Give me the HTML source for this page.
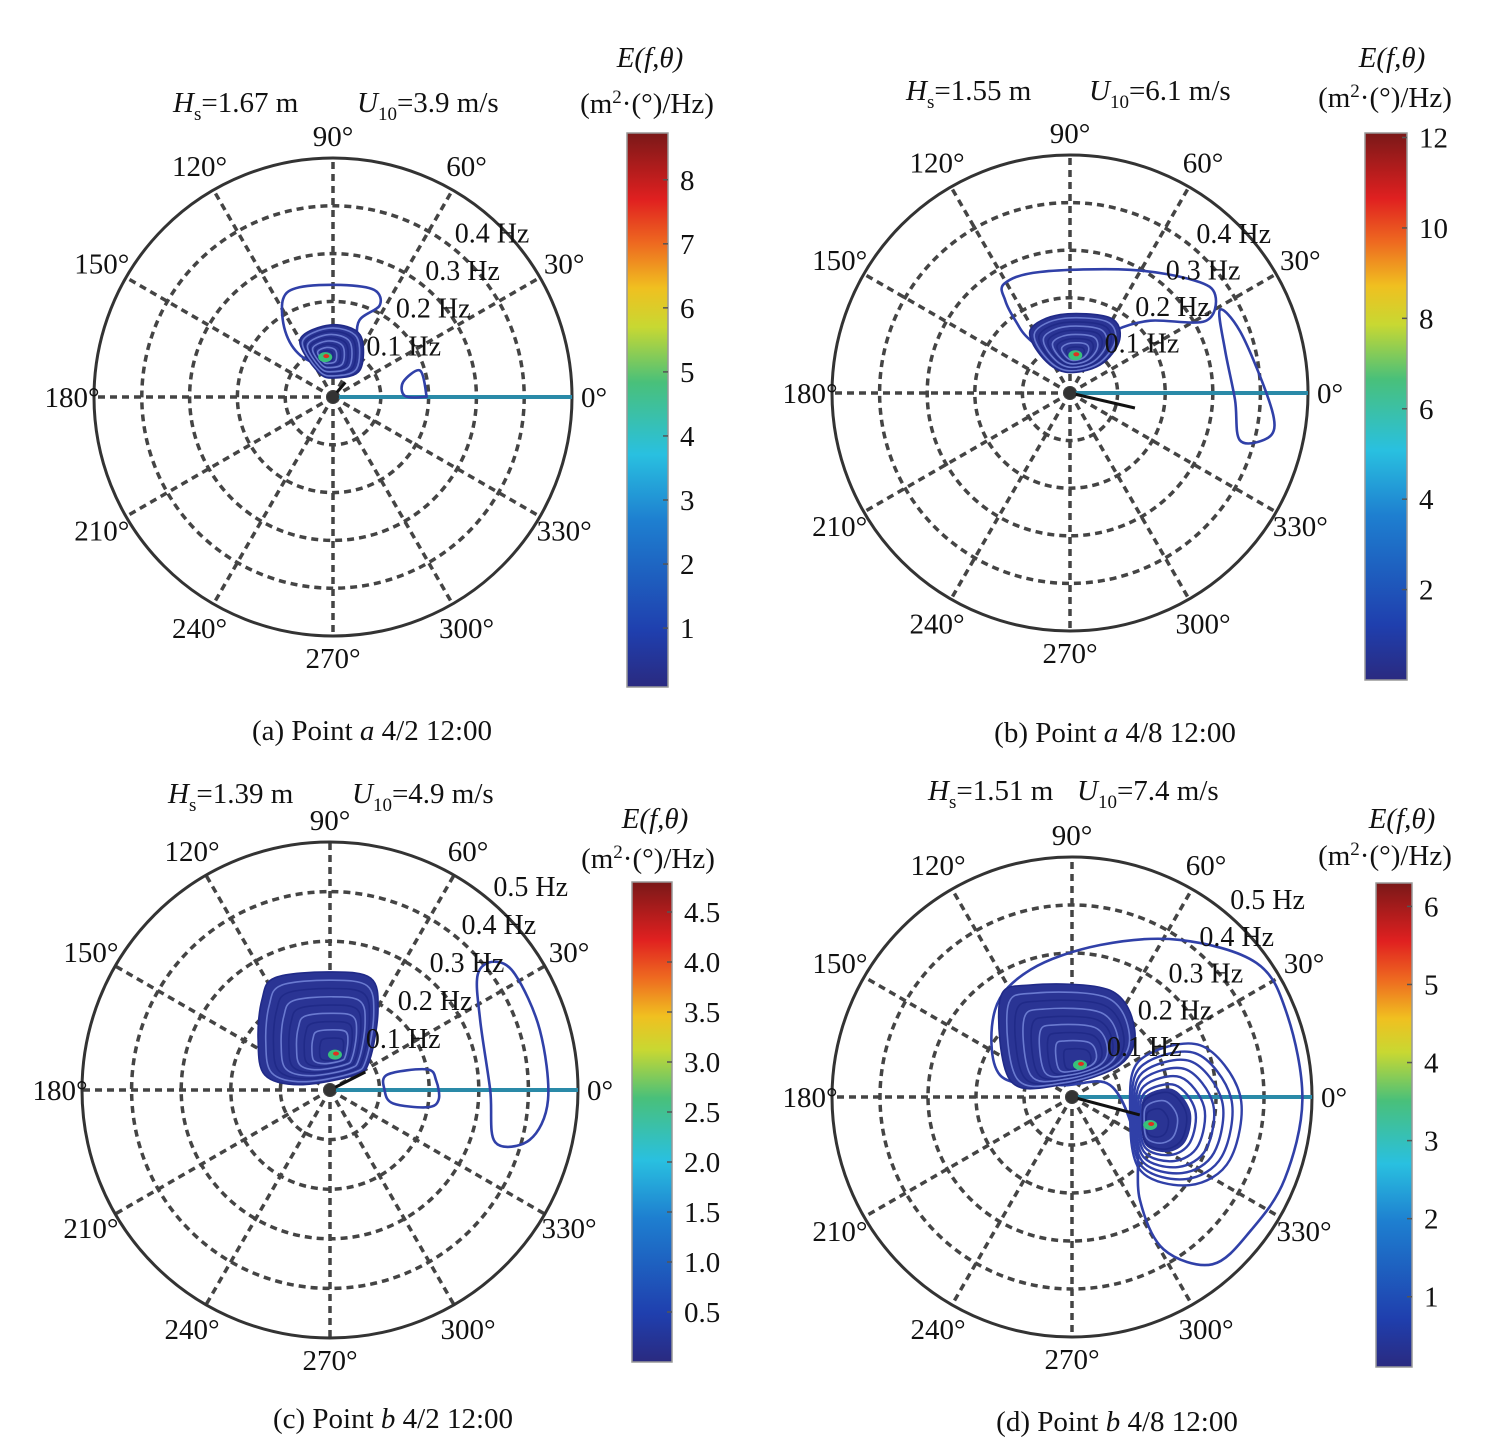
<!DOCTYPE html>
<html><head><meta charset="utf-8"><style>
html,body{margin:0;padding:0;background:#fff}
svg{display:block}
text{font-family:"Liberation Serif",serif;fill:#111}
</style></head><body>
<svg id="fig" width="1499" height="1456" viewBox="0 0 1499 1456">
<defs>
<linearGradient id="jet" x1="0" y1="1" x2="0" y2="0">
<stop offset="0" stop-color="#2a2a80"/><stop offset="0.1" stop-color="#1f3fae"/><stop offset="0.3" stop-color="#1e7fd0"/><stop offset="0.42" stop-color="#29c0e0"/><stop offset="0.55" stop-color="#49c07a"/><stop offset="0.65" stop-color="#c8d832"/><stop offset="0.72" stop-color="#f0c020"/><stop offset="0.8" stop-color="#ee6a20"/><stop offset="0.88" stop-color="#e02020"/><stop offset="1" stop-color="#7a1818"/>
</linearGradient>
</defs>
</svg>
<script>
// ---- data ----
const ringFreqs=[0.1,0.2,0.3,0.4,0.5];
const angleTicks=[0,30,60,90,120,150,180,210,240,270,300,330];
const cbTicksA=[1,2,3,4,5,6,7,8];
const cbTicksB=[2,4,6,8,10,12];
const cbTicksC=["0.5","1.0","1.5","2.0","2.5","3.0","3.5","4.0","4.5"];
const cbTicksD=[1,2,3,4,5,6];
// contours as [angleDeg, freqHz]
const aOuter=[[96,.06],[128,.11],[126,.17],[117,.23],[107,.24],[86,.235],[69,.24],[63,.215],[71,.17],[67,.12],[66,.06]];
const aSmall=[[1,.15],[12,.15],[17,.19],[2,.195],[0,.19]];
const aBlob=[[120,.138],[92,.151],[66.5,.142],[45,.08],[84,.04],[121,.061]];
const aPeak=[101,.085];
const bOuter=[[125,.237],[121,.268],[104,.262],[64,.288],[42,.353],[34,.368],[28,.322],[42,.227],[54,.163],[58,.119],[54,.072],[90,.05],[127,.14],[127,.19]];
const bRight=[[29,.36],[20,.38],[1,.41],[-9,.435],[-13.5,.42],[-15.5,.37],[-2.4,.347],[15.5,.338]];
const bBlob=[[122,.157],[97,.166],[62,.179],[47,.153],[43,.086],[103,.045],[128,.1]];
const bPeak=[82,.08];
const cBlob=[[127,.228],[116,.252],[90,.238],[70,.24],[59,.188],[37,.1],[31,.059],[170,.061],[167,.135],[145,.177]];
const cPeak=[82,.072];
const cSmall=[[15,.12],[12,.2],[5,.215],[-5,.22],[-10,.2],[-12,.13],[0,.11]];
const cRight=[[38,.378],[38,.42],[32,.44],[16,.44],[-2.6,.44],[-14,.415],[-17.5,.349],[0,.323],[25,.334]];
const dOuter=[[163,.157],[131.5,.242],[108,.279],[79.5,.322],[55.5,.397],[36,.475],[21,.48],[-0.7,.48],[-21,.475],[-36.5,.465],[-50,.455],[-59,.37],[-56.6,.257],[-34,.16],[17.5,.083],[135,.035]];
const dBlobTop=[[126.6,.252],[110.5,.249],[70.4,.236],[46.8,.191],[33.7,.12],[135,.035],[164.7,.134]];
const dPeakTop=[76,.069];
const dBlobLow=[[28.5,.161],[22,.288],[0.7,.35],[-21.7,.354],[-36.7,.307],[-47,.208],[-12.6,.124]];
const dPeakLow=[-19.7,.173];

const NS="http://www.w3.org/2000/svg";
const svg=document.getElementById('fig');
function mk(tag,attrs,parent){const e=document.createElementNS(NS,tag);for(const k in attrs)e.setAttribute(k,attrs[k]);(parent||svg).appendChild(e);return e;}
function smooth(pts){const n=pts.length;let d=`M${pts[0][0]},${pts[0][1]}`;
for(let i=0;i<n;i++){const p0=pts[(i-1+n)%n],p1=pts[i],p2=pts[(i+1)%n],p3=pts[(i+2)%n];
d+=` C${p1[0]+(p2[0]-p0[0])/6},${p1[1]+(p2[1]-p0[1])/6} ${p2[0]-(p3[0]-p1[0])/6},${p2[1]-(p3[1]-p1[1])/6} ${p2[0]},${p2[1]}`;}return d+'Z';}

function panel(P){
  const g=mk('g',{});
  
  
  const pol=(a,f)=>[P.cx+f/0.5*P.R*Math.cos(a*Math.PI/180),P.cy-f/0.5*P.R*Math.sin(a*Math.PI/180)];
  angleTicks.forEach(a=>{const p=pol(a,0.5);const l=mk('line',{x1:P.cx,y1:P.cy,x2:p[0],y2:p[1],stroke:'#444','stroke-width':3.5,'stroke-dasharray':'7 5'},g);
    });
  ringFreqs.forEach(f=>{const outer=f===0.5;const c=mk('circle',{cx:P.cx,cy:P.cy,r:f/0.5*P.R,fill:'none',stroke:outer?'#333':'#444','stroke-width':outer?3:3.5,'stroke-dasharray':outer?'none':'7 5'},g);
    });
  const w=pol(0,0.5);
  const wl=mk('line',{x1:P.cx,y1:P.cy,x2:w[0],y2:w[1],stroke:'#2a8aa8','stroke-width':4},g);
  
  P.lines.forEach((c,i)=>{const p=mk('path',{d:smooth(c.map(q=>pol(q[0],q[1]))),fill:'none',stroke:'#3040a8','stroke-width':2.6},g);
    });
  P.blobs.forEach(b=>{const pk=pol(b.peak[0],b.peak[1]);const base=b.shape.map(q=>pol(q[0],q[1]));
    const fs=b.fill||1;
    const fp=base.map(p=>[pk[0]+(p[0]-pk[0])*fs,pk[1]+(p[1]-pk[1])*fs]);
    const f=mk('path',{d:smooth(fp),fill:'#2a3494',stroke:'none'},g);
    
    for(let k=0;k<9;k++){const s=1-k*0.1;const pts=base.map(p=>[pk[0]+(p[0]-pk[0])*s,pk[1]+(p[1]-pk[1])*s]);
      const outside=s>fs+0.01;
      const c=mk('path',{d:smooth(pts),fill:'none',stroke:outside?'#3040a8':(k%2?'#6a7ad0':'#202a88'),'stroke-width':outside?2.4:1.6},g);
      }
    const d1=mk('ellipse',{cx:pk[0],cy:pk[1],rx:7,ry:5,fill:'#39c07a'},g);
    const d2=mk('ellipse',{cx:pk[0]+1,cy:pk[1]-1,rx:3,ry:2,fill:'#e03020'},g);});
  const ap=pol(P.arrow[0],P.arrow[1]);
  const ar=mk('line',{x1:P.cx,y1:P.cy,x2:ap[0],y2:ap[1],stroke:'#111','stroke-width':3},g);
  
  const cd=mk('circle',{cx:P.cx,cy:P.cy,r:6,fill:'#333'},g);
  P.freqLabels.forEach((f,i)=>{const p=pol(P.flAngle,f);const t=mk('text',{x:p[0]+4,y:p[1]-4,'font-size':28},g);t.textContent=f.toFixed(1)+' Hz';
    });
  angleTicks.forEach(a=>{const card=a%90===0;const rr=P.R+(card?22:28);const x=P.cx+rr*Math.cos(a*Math.PI/180),y=P.cy-rr*Math.sin(a*Math.PI/180);
    const t=mk('text',{x:x,y:y+10,'font-size':29,'text-anchor':'middle'},g);t.textContent=a+'°';
    });
  const h=mk('text',{x:P.hx,y:P.hy,'font-size':29},g);
  h.innerHTML=`<tspan font-style="italic">H</tspan><tspan dy="8" font-size="19">s</tspan><tspan dy="-8">=${P.hs} m</tspan>`;
  
  const u=mk('text',{x:P.ux,y:P.hy,'font-size':29},g);
  u.innerHTML=`<tspan font-style="italic">U</tspan><tspan dy="8" font-size="19">10</tspan><tspan dy="-8">=${P.u} m/s</tspan>`;
  
  const cb=P.cb;
  const r=mk('rect',{x:cb.x,y:cb.top,width:cb.w,height:cb.bot-cb.top,fill:'url(#jet)',stroke:'#999','stroke-width':1.5},g);
  
  const vy=v=>cb.bot-(v-cb.vmin)/(cb.vmax-cb.vmin)*(cb.bot-cb.top);
  cb.ticks.forEach(v=>{const y=vy(parseFloat(v));
    const tk=mk('line',{x1:cb.x+cb.w-5,y1:y,x2:cb.x+cb.w,y2:y,stroke:'#555','stroke-width':1.5},g);
    const t=mk('text',{x:cb.x+cb.w+12,y:y+10,'font-size':29},g);t.textContent=v;
    });
  const et=mk('text',{x:cb.tx,y:cb.ty1,'font-size':29,'text-anchor':'middle','font-style':'italic'},g);
  et.textContent='E(f,θ)';
  const ut=mk('text',{x:cb.tx2,y:cb.ty2,'font-size':29,'text-anchor':'middle'},g);
  ut.innerHTML='(m<tspan dy="-10" font-size="19">2</tspan><tspan dy="10">·(°)/Hz)</tspan>';
  const cap=mk('text',{x:P.capx,y:P.capy,'font-size':29,'text-anchor':'middle'},g);
  cap.innerHTML=P.cap;
}

panel({name:'panel-a',cx:333,cy:397,R:239,lines:[aOuter,aSmall],blobs:[{shape:aBlob,peak:aPeak}],arrow:[50,.04],
  freqLabels:[.1,.2,.3,.4],flAngle:52,hx:173,ux:357,hy:112,hs:'1.67',u:'3.9',
  cb:{x:627,w:41,top:133,bot:687,vmin:.08,vmax:8.73,ticks:cbTicksA,tx:650,ty1:67,tx2:647,ty2:113},
  capx:372,capy:740,cap:'(a) Point <tspan font-style="italic">a</tspan> 4/2 12:00'});
panel({name:'panel-b',cx:1070,cy:393,R:238,lines:[bOuter,bRight],blobs:[{shape:bBlob,peak:bPeak}],arrow:[-13,.14],
  freqLabels:[.1,.2,.3,.4],flAngle:50,hx:906,ux:1089,hy:100,hs:'1.55',u:'6.1',
  cb:{x:1365,w:42,top:133,bot:680,vmin:0,vmax:12.1,ticks:cbTicksB,tx:1392,ty1:67,tx2:1385,ty2:107},
  capx:1115,capy:742,cap:'(b) Point <tspan font-style="italic">a</tspan> 4/8 12:00'});
panel({name:'panel-c',cx:330,cy:1090,R:248,lines:[cSmall,cRight],blobs:[{shape:cBlob,peak:cPeak}],arrow:[27,.08],
  freqLabels:[.1,.2,.3,.4,.5],flAngle:50,hx:168,ux:352,hy:803,hs:'1.39',u:'4.9',
  cb:{x:632,w:40,top:882,bot:1362,vmin:0,vmax:4.8,ticks:cbTicksC,tx:655,ty1:828,tx2:648,ty2:868},
  capx:393,capy:1428,cap:'(c) Point <tspan font-style="italic">b</tspan> 4/2 12:00'});
panel({name:'panel-d',cx:1072,cy:1097,R:240,lines:[dOuter],blobs:[{shape:dBlobTop,peak:dPeakTop},{shape:dBlobLow,peak:dPeakLow,fill:0.45}],arrow:[-14.8,.146],
  freqLabels:[.1,.2,.3,.4,.5],flAngle:50,hx:928,ux:1077,hy:800,hs:'1.51',u:'7.4',
  cb:{x:1376,w:36,top:883,bot:1367,vmin:.1,vmax:6.3,ticks:cbTicksD,tx:1402,ty1:828,tx2:1385,ty2:865},
  capx:1117,capy:1431,cap:'(d) Point <tspan font-style="italic">b</tspan> 4/8 12:00'});
</script>
</body></html>
